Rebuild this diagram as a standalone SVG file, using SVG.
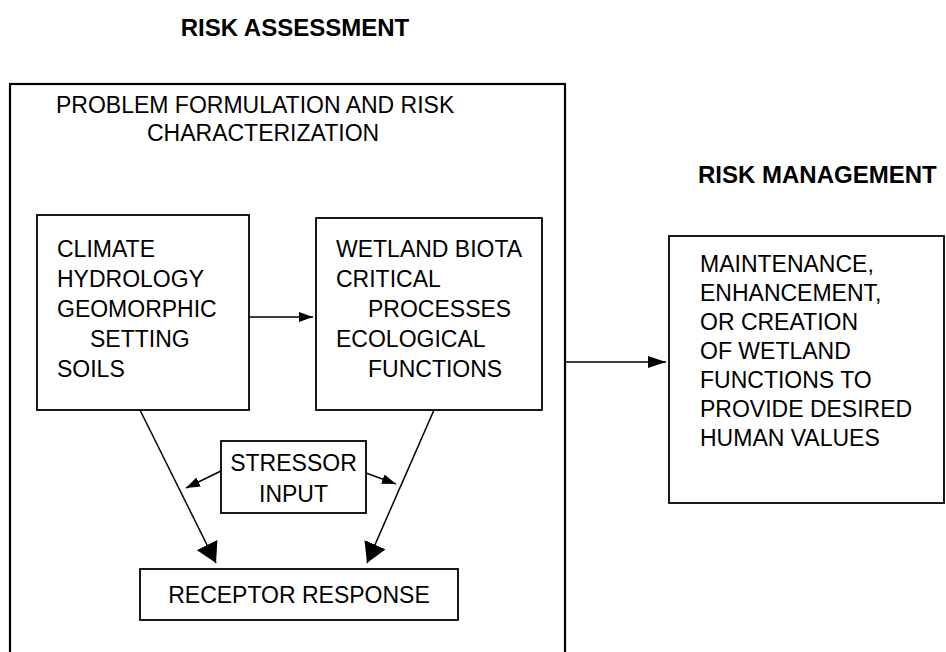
<svg xmlns="http://www.w3.org/2000/svg" width="946" height="652" viewBox="0 0 946 652">
<defs>
<style>
.box{fill:none;stroke:#000;stroke-width:1.8}
.outer{fill:none;stroke:#000;stroke-width:2.2}
.t{font-family:"Liberation Sans",Arial,sans-serif;font-size:23px;fill:#000}
.h{font-family:"Liberation Sans",Arial,sans-serif;font-size:24px;font-weight:bold;fill:#000}
.ln{fill:none;stroke:#000;stroke-width:1.5}
</style>
<marker id="big" viewBox="0 0 20 23" refX="20" refY="11.5" markerWidth="20" markerHeight="23" markerUnits="userSpaceOnUse" orient="auto">
<path d="M0,0 L20,11.5 L0,23 z" fill="#000"/>
</marker>
<marker id="small" viewBox="0 0 14 10" refX="14" refY="5" markerWidth="14" markerHeight="10" markerUnits="userSpaceOnUse" orient="auto">
<path d="M0,0 L14,5 L0,10 z" fill="#000"/>
</marker>
<marker id="med" viewBox="0 0 18 12" refX="18" refY="6" markerWidth="18" markerHeight="12" markerUnits="userSpaceOnUse" orient="auto">
<path d="M0,0 L18,6 L0,12 z" fill="#000"/>
</marker>
</defs>
<rect width="946" height="652" fill="#fff"/>

<g id="risk-assessment">
<text class="h" x="295" y="36" text-anchor="middle">RISK ASSESSMENT</text>
<rect class="outer" x="10" y="84" width="555" height="580"/>
<text class="t" x="56" y="113">PROBLEM FORMULATION AND RISK</text>
<text class="t" x="147" y="141">CHARACTERIZATION</text>
</g>

<g id="risk-management">
<text class="h" x="698" y="183">RISK MANAGEMENT</text>
</g>

<g id="abiotic">
<rect class="box" x="37" y="215" width="212" height="195"/>
<text class="t" x="57" y="257">CLIMATE</text>
<text class="t" x="57" y="287">HYDROLOGY</text>
<text class="t" x="57" y="317">GEOMORPHIC</text>
<text class="t" x="90" y="347">SETTING</text>
<text class="t" x="57" y="377">SOILS</text>
</g>

<g id="biota">
<rect class="box" x="316" y="218" width="226" height="192"/>
<text class="t" x="336" y="257">WETLAND BIOTA</text>
<text class="t" x="336" y="287">CRITICAL</text>
<text class="t" x="368" y="317">PROCESSES</text>
<text class="t" x="336" y="347">ECOLOGICAL</text>
<text class="t" x="368" y="377">FUNCTIONS</text>
</g>

<g id="stressor">
<rect class="box" x="221" y="441" width="145" height="72"/>
<text class="t" x="293.5" y="471" text-anchor="middle">STRESSOR</text>
<text class="t" x="293.5" y="502" text-anchor="middle">INPUT</text>
</g>

<g id="receptor">
<rect class="box" x="140" y="569" width="318" height="51"/>
<text class="t" x="299" y="603" text-anchor="middle">RECEPTOR RESPONSE</text>
</g>

<g id="management">
<rect class="box" x="669" y="236" width="275" height="267"/>
<text class="t" x="700" y="272">MAINTENANCE,</text>
<text class="t" x="700" y="301">ENHANCEMENT,</text>
<text class="t" x="700" y="330">OR CREATION</text>
<text class="t" x="700" y="359">OF WETLAND</text>
<text class="t" x="700" y="388">FUNCTIONS TO</text>
<text class="t" x="700" y="417">PROVIDE DESIRED</text>
<text class="t" x="700" y="446">HUMAN VALUES</text>
</g>

<g id="connectors">
<line class="ln" x1="249" y1="317" x2="313" y2="317" marker-end="url(#small)"/>
<line class="ln" x1="140" y1="410" x2="216" y2="563" marker-end="url(#big)"/>
<line class="ln" x1="434" y1="410" x2="367" y2="563" marker-end="url(#big)"/>
<line class="ln" x1="221" y1="471" x2="186" y2="488" marker-end="url(#small)"/>
<line class="ln" x1="366" y1="473" x2="396" y2="484" marker-end="url(#small)"/>
<line class="ln" x1="565" y1="362" x2="666" y2="362" marker-end="url(#med)"/>
</g>
</svg>
